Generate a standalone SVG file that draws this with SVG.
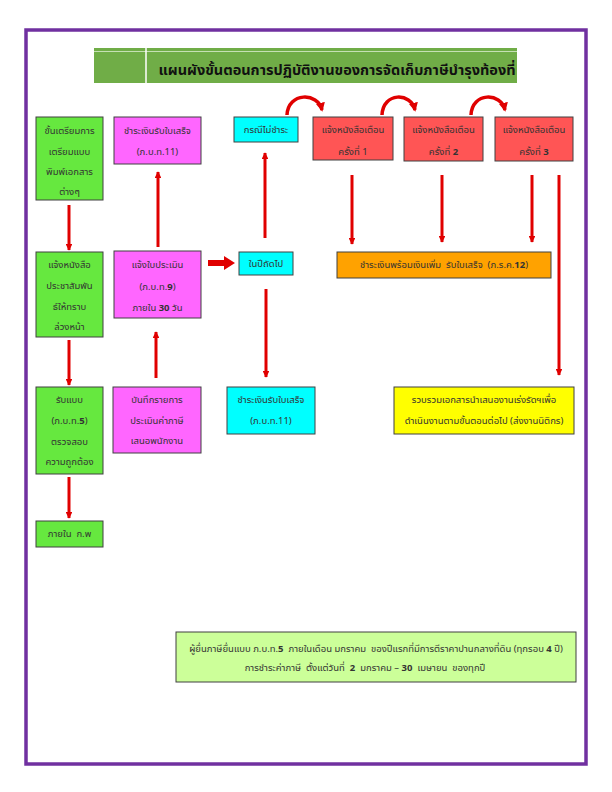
<svg xmlns="http://www.w3.org/2000/svg" width="612" height="792" viewBox="0 0 612 792">
<defs>
<style>
.t{font-family:"Noto Sans Thai","Noto Sans","DejaVu Sans",sans-serif;font-size:9.5px;fill:#333;text-anchor:middle}
.b{stroke:#404040;stroke-width:1}
.g{fill:#66E83F}.m{fill:#FF66FF}.c{fill:#00FFFF}.r{fill:#FF5555}.o{fill:#FFA200}.y{fill:#FFFF00}.n{fill:#CCFF99}
.a{stroke:#E00000;stroke-width:3;fill:none;marker-end:url(#ah)}
.cv{stroke:#E00000;stroke-width:3.5;fill:none;marker-end:url(#ch)}
.d{font-weight:bold}
</style>
<marker id="ah" viewBox="0 0 10 10" refX="9" refY="5" markerWidth="2.2" markerHeight="2.2" orient="auto" markerUnits="strokeWidth">
<path d="M0,0 L10,5 L0,10 z" fill="#E00000"/>
</marker>
<marker id="ch" viewBox="0 0 10 10" refX="8" refY="5" markerWidth="2.6" markerHeight="2.6" orient="auto" markerUnits="strokeWidth">
<path d="M0,0 L10,5 L0,10 z" fill="#E00000"/>
</marker>
</defs>
<rect width="612" height="792" fill="#fff"/>
<rect x="26" y="30" width="560" height="734" fill="none" stroke="#7030A0" stroke-width="3.5"/>

<g id="title">
<rect x="94" y="48" width="423" height="35" fill="#70AD47"/>
<line x1="94" y1="51.5" x2="517" y2="51.5" stroke="#C5E0B4" stroke-width="1.2"/>
<line x1="146" y1="48" x2="146" y2="83" stroke="#ffffff" stroke-width="1.5"/>
<text x="337" y="75" font-family="'Noto Sans Thai','Noto Sans',sans-serif" font-size="14.5" font-weight="bold" fill="#111" text-anchor="middle">แผนผังขั้นตอนการปฏิบัติงานของการจัดเก็บภาษีบำรุงท้องที่</text>
</g>

<g id="connectors">
<line class="a" x1="69" y1="205" x2="69" y2="250"/>
<line class="a" x1="69" y1="340" x2="69" y2="385"/>
<line class="a" x1="69" y1="477" x2="69" y2="518"/>
<line class="a" x1="158" y1="247" x2="158" y2="172"/>
<line class="a" x1="156" y1="378" x2="156" y2="332"/>
<line class="a" x1="265" y1="238" x2="265" y2="153"/>
<line class="a" x1="266" y1="289" x2="266" y2="377"/>
<line class="a" x1="352" y1="175" x2="352" y2="244"/>
<line class="a" x1="442" y1="175" x2="442" y2="242"/>
<line class="a" x1="532" y1="175" x2="532" y2="242"/>
<line class="a" x1="559" y1="175" x2="559" y2="375"/>
<polygon points="208,260 224,260 224,256 235,263 224,270 224,266 208,266" fill="#E00000"/>
<path class="cv" d="M287,115 C288,92 318,92 322,110"/>
<path class="cv" d="M382,115 C383,92 411,92 415,110"/>
<path class="cv" d="M471,115 C472,92 501,92 505,110"/>
</g>

<g id="n-prep"><rect class="g b" x="36" y="117" width="67" height="83"/>
<text class="t" x="69.5" y="134">ขั้นเตรียมการ</text><text class="t" x="69.5" y="155">เตรียมแบบ</text><text class="t" x="69.5" y="175">พิมพ์เอกสาร</text><text class="t" x="69.5" y="195">ต่างๆ</text></g>
<g id="n-announce"><rect class="g b" x="36" y="252" width="67" height="85"/>
<text class="t" x="69.5" y="268">แจ้งหนังสือ</text><text class="t" x="69.5" y="289">ประชาสัมพัน</text><text class="t" x="69.5" y="310">ธ์ให้ทราบ</text><text class="t" x="69.5" y="330">ล่วงหน้า</text></g>
<g id="n-receive"><rect class="g b" x="36" y="387" width="67" height="87"/>
<text class="t" x="69.5" y="403">รับแบบ</text><text class="t" x="69.5" y="424">(ภ.บ.ท.<tspan class="d">5</tspan>)</text><text class="t" x="69.5" y="445">ตรวจสอบ</text><text class="t" x="69.5" y="465">ความถูกต้อง</text></g>
<g id="n-feb"><rect class="g b" x="36" y="521" width="67" height="26"/>
<text class="t" x="69.5" y="537" xml:space="preserve">ภายใน  ก.พ</text></g>

<g id="n-pay11a"><rect class="m b" x="114" y="117" width="87" height="47"/>
<text class="t" x="157.5" y="134">ชำระเงินรับใบเสร็จ</text><text class="t" x="157.5" y="155">(ภ.บ.ท.11)</text></g>
<g id="n-assess"><rect class="m b" x="114" y="251" width="87" height="67"/>
<text class="t" x="157.5" y="268">แจ้งใบประเมิน</text><text class="t" x="157.5" y="290">(ภ.บ.ท.<tspan class="d">9</tspan>)</text><text class="t" x="157.5" y="311">ภายใน <tspan class="d">30</tspan> วัน</text></g>
<g id="n-record"><rect class="m b" x="113" y="387" width="88" height="66"/>
<text class="t" x="157" y="403">บันทึกรายการ</text><text class="t" x="157" y="424">ประเมินค่าภาษี</text><text class="t" x="157" y="444">เสนอพนักงาน</text></g>

<g id="n-unpaid"><rect class="c b" x="234" y="117" width="64" height="25"/>
<text class="t" x="266" y="133">กรณีไม่ชำระ</text></g>
<g id="n-nextyear"><rect class="c b" x="239" y="252" width="54" height="23"/>
<text class="t" x="266" y="267">ในปีถัดไป</text></g>
<g id="n-pay11b"><rect class="c b" x="227" y="387" width="88" height="47"/>
<text class="t" x="271" y="403">ชำระเงินรับใบเสร็จ</text><text class="t" x="271" y="424">(ภ.บ.ท.11)</text></g>

<g id="n-warn1"><rect class="r b" x="313" y="117" width="80" height="43"/>
<text class="t" x="353" y="133">แจ้งหนังสือเตือน</text><text class="t" x="353" y="155">ครั้งที่ 1</text></g>
<g id="n-warn2"><rect class="r b" x="404" y="117" width="79" height="44"/>
<text class="t" x="443.5" y="133">แจ้งหนังสือเตือน</text><text class="t" x="443.5" y="155">ครั้งที่ <tspan class="d">2</tspan></text></g>
<g id="n-warn3"><rect class="r b" x="495" y="117" width="78" height="44"/>
<text class="t" x="534" y="133">แจ้งหนังสือเตือน</text><text class="t" x="534" y="155">ครั้งที่ <tspan class="d">3</tspan></text></g>

<g id="n-pay12"><rect class="o b" x="337" y="252" width="214" height="26"/>
<text class="t" x="444" y="268" xml:space="preserve">ชำระเงินพร้อมเงินเพิ่ม  รับใบเสร็จ  (ภ.ร.ค.<tspan class="d">12</tspan>)</text></g>
<g id="n-legal"><rect class="y b" x="394" y="387" width="180" height="47"/>
<text class="t" x="484" y="403">รวบรวมเอกสารนำเสนองานเร่งรัดฯเพื่อ</text><text class="t" x="484" y="424">ดำเนินงานตามขั้นตอนต่อไป (ส่งงานนิติกร)</text></g>

<g id="n-note"><rect class="n" x="176" y="632" width="400" height="50" stroke="#404040" stroke-width="1"/>
<text class="t" x="376" y="652" font-size="9.8" xml:space="preserve">ผู้ยื่นภาษียื่นแบบ ภ.บ.ท.<tspan class="d">5</tspan>  ภายในเดือน มกราคม  ของปีแรกที่มีการตีราคาปานกลางที่ดิน (ทุกรอบ <tspan class="d">4</tspan> ปี)</text>
<text class="t" x="365" y="671" xml:space="preserve">การชำระค่าภาษี  ตั้งแต่วันที่  <tspan class="d">2</tspan>  มกราคม – <tspan class="d">30</tspan>  เมษายน  ของทุกปี</text></g>
</svg>
